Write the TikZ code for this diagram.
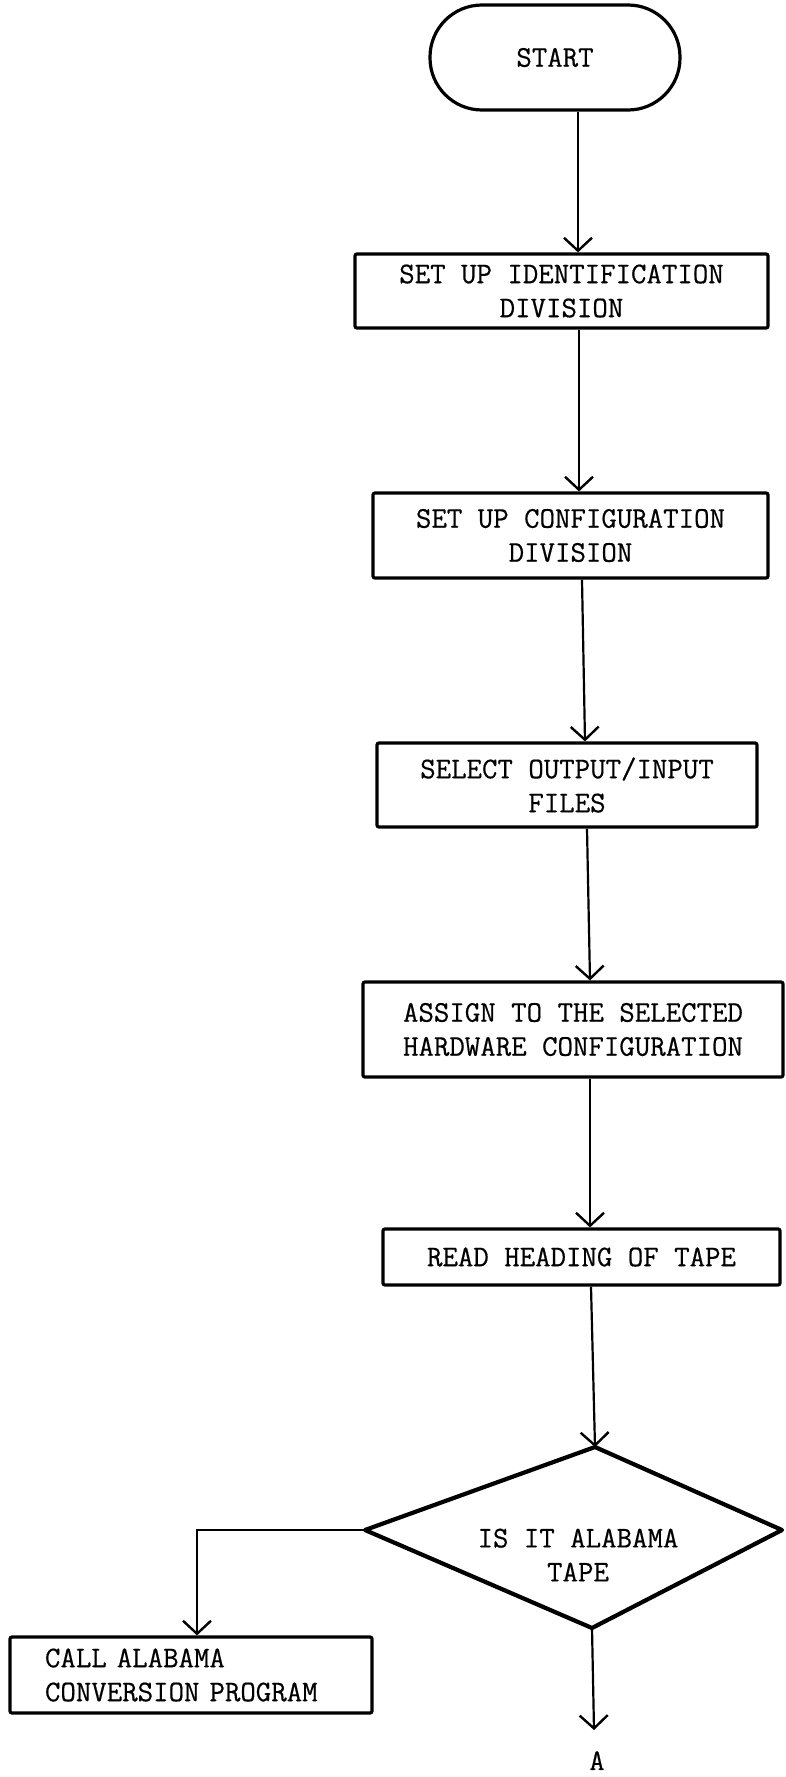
\documentclass[tikz,border=0pt]{standalone}
\usepackage{fontspec}
\setmonofont{Latin Modern Mono}[FakeBold=0.5]
\usetikzlibrary{arrows.meta}
\begin{document}
\begin{tikzpicture}[x=1pt,y=-1pt,
  every node/.style={font=\ttfamily\fontsize{30}{34}\selectfont},
  box/.style={draw, line width=3.2pt, rounded corners=2pt, inner sep=0pt, align=center},
  term/.style={draw, line width=3.2pt, rounded corners=52pt, minimum width=250pt,
               minimum height=105pt, inner sep=0pt},
  flow/.style={line width=2.2pt, -{Straight Barb[length=13pt,width=28pt,line width=2.4pt]}},
  diam/.style={line width=4.2pt, line join=round}]

\useasboundingbox (0,0) rectangle (785,1777);
\fill[white] (0,0) rectangle (785,1777);

% process steps
\node[term] (start) at (555,57.5) {START};
\node[box, minimum width=413pt, minimum height=74pt] (b1) at (561.5,291)
  {SET UP IDENTIFICATION\\DIVISION};
\node[box, minimum width=395pt, minimum height=85pt] (b2) at (570.5,535.5)
  {SET UP CONFIGURATION\\DIVISION};
\node[box, minimum width=380pt, minimum height=84pt] (b3) at (567,785)
  {SELECT OUTPUT/INPUT\\FILES};
\node[box, minimum width=420pt, minimum height=95pt] (b4) at (573,1029.5)
  {ASSIGN TO THE SELECTED\\HARDWARE CONFIGURATION};
\node[box, minimum width=397pt, minimum height=56pt] (b5) at (581.5,1257)
  {READ HEADING OF TAPE};

% decision
\coordinate (dT) at (595,1447);
\coordinate (dR) at (782,1530);
\coordinate (dB) at (592,1628);
\coordinate (dL) at (365,1530);
\draw[diam] (dT) -- (dR) -- (dB) -- (dL) -- cycle;
\node[align=center, inner sep=0pt] (dtext) at (578,1555) {IS IT ALABAMA\\TAPE};

\node[box, minimum width=362pt, minimum height=76pt, align=left,
      text width=292pt, inner xsep=35pt] (b6) at (191,1675)
  {CALL ALABAMA\\CONVERSION PROGRAM};

\node[anchor=north, inner sep=0pt] (A) at (597,1751) {A};

% connector columns
\coordinate (x1) at (578,0);
\coordinate (x2) at (579,0);
\coordinate (x3a) at (582,0);
\coordinate (x3b) at (585,0);
\coordinate (x4a) at (587,0);
\coordinate (x4b) at (590,0);
\coordinate (x5) at (590,0);
\coordinate (x6) at (591,0);
\coordinate (xL) at (197,0);
\coordinate (aEnd) at (594,1730);

% connectors
\draw[flow] (x1 |- start.south) -- (x1 |- b1.north);
\draw[flow] (x2 |- b1.south) -- (x2 |- b2.north);
\draw[flow] (x3a |- b2.south) -- (x3b |- b3.north);
\draw[flow] (x4a |- b3.south) -- (x4b |- b4.north);
\draw[flow] (x5 |- b4.south) -- (x5 |- b5.north);
\draw[flow] (x6 |- b5.south) -- (dT);
\draw[flow] (dL) -- (xL |- dL) -- (xL |- b6.north);
\draw[flow] (dB) -- (aEnd);
\end{tikzpicture}
\end{document}
